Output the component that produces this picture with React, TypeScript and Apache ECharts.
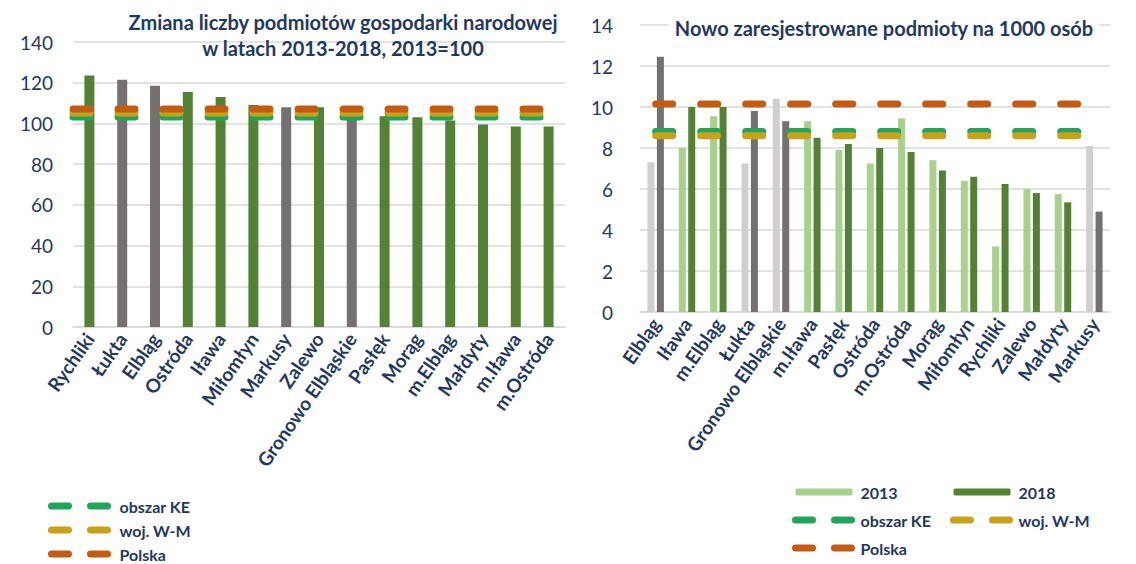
import React, { useEffect, useRef } from 'react';
import * as echarts from 'echarts';

const leftCategories = ['Rychliki', 'Łukta', 'Elbląg', 'Ostróda', 'Iława', 'Miłomłyn', 'Markusy', 'Zalewo', 'Gronowo Elbląskie', 'Pasłęk', 'Morąg', 'm.Elbląg', 'Małdyty', 'm.Iława', 'm.Ostróda'];
const leftValues = [123.5, 121.5, 118.5, 115.5, 113, 109, 108, 108, 105, 103.5, 103, 101.5, 99.5, 98.5, 98.5];

const rightCategories = ['Elbląg', 'Iława', 'm.Elbląg', 'Łukta', 'Gronowo Elbląskie', 'm.Iława', 'Pasłęk', 'Ostróda', 'm.Ostróda', 'Morąg', 'Miłomłyn', 'Rychliki', 'Zalewo', 'Małdyty', 'Markusy'];
const values2013 = [7.3, 8.0, 9.55, 7.25, 10.4, 9.3, 7.9, 7.25, 9.45, 7.4, 6.4, 3.2, 6.0, 5.75, 8.1];
const values2018 = [12.45, 10.0, 10.0, 9.8, 9.3, 8.5, 8.2, 8.0, 7.8, 6.9, 6.6, 6.25, 5.8, 5.35, 4.9];

const refNames = ['obszar KE', 'woj. W-M', 'Polska'];
const leftRefValues = [103.2, 105.1, 107.1];
const rightRefValues = [8.8, 8.6, 10.15];

const grayUnits = ['Łukta', 'Elbląg', 'Markusy', 'Gronowo Elbląskie'];

const leftTitle = 'Zmiana liczby podmiotów gospodarki narodowej\nw latach 2013-2018, 2013=100';
const rightTitle = 'Nowo zaresjestrowane podmioty na 1000 osób';

const NAVY = '#1F3864';
const FONT = 'Lato';
const refColors = ['#1FA65A', '#C9A21A', '#C55A11'];
const DARK_GREEN = '#548235';
const LIGHT_GREEN = '#A9D18E';
const DARK_GRAY = '#767171';
const LIGHT_GRAY = '#D0CECE';
const GRID = '#D9D9D9';

export default function App() {
  const ref = useRef<HTMLDivElement>(null);

  useEffect(() => {
    if (!ref.current) return;
    const chart = echarts.init(ref.current, undefined, { renderer: 'svg' });

    const isGray = (name: string) => grayUnits.indexOf(name) >= 0;

    const catLabel = {
      rotate: 55,
      interval: 0,
      color: NAVY,
      fontFamily: FONT,
      fontWeight: 'bold' as const,
      fontSize: 19,
      margin: 8,
    };
    const valLabel = { color: NAVY, fontFamily: FONT, fontSize: 19 };

    const lineSeries = (name: string, idx: number, values: number[], value: number, xAxisIndex: number, yAxisIndex: number) => ({
      name,
      type: 'line',
      xAxisIndex,
      yAxisIndex,
      data: values.map(() => value),
      symbol: 'none',
      silent: true,
      z: 5 + idx,
      color: refColors[idx],
      itemStyle: { color: refColors[idx] },
      lineStyle: { color: refColors[idx], width: 7, type: [17, 28], cap: 'round' },
    });

    const legendText = { color: NAVY, fontFamily: FONT, fontWeight: 'bold' as const, fontSize: 16 };
    const legendLine = { width: 7, cap: 'round', type: [17, 22] };
    const hiddenSymbol = { opacity: 0 };

    chart.setOption({
      animation: false,
      backgroundColor: '#ffffff',
      title: [
        {
          text: leftTitle,
          left: 343,
          top: 9,
          padding: 0,
          textAlign: 'center',
          textStyle: { color: NAVY, fontFamily: FONT, fontWeight: 'bold', fontSize: 20, lineHeight: 26 },
        },
        {
          text: rightTitle,
          left: 878,
          top: 14,
          textAlign: 'center',
          backgroundColor: '#ffffff',
          padding: [2, 6],
          textStyle: { color: NAVY, fontFamily: FONT, fontWeight: 'bold', fontSize: 20, lineHeight: 24 },
        },
      ],
      legend: [
        {
          data: refNames,
          orient: 'vertical',
          left: 48,
          top: 498,
          padding: 0,
          itemWidth: 56,
          itemHeight: 10,
          itemGap: 8,
          selectedMode: false,
          textStyle: { ...legendText, padding: [0, 0, 0, 7] },
          itemStyle: hiddenSymbol,
          lineStyle: legendLine,
        },
        {
          data: ['2013', { name: 'obszar KE', itemStyle: hiddenSymbol }, { name: 'Polska', itemStyle: hiddenSymbol }],
          orient: 'vertical',
          left: 792,
          top: 484,
          padding: 0,
          itemWidth: 57,
          itemHeight: 7,
          itemGap: 12,
          selectedMode: false,
          textStyle: { ...legendText, padding: [0, 0, 0, 3] },
          lineStyle: legendLine,
        },
        {
          data: ['2018', { name: 'woj. W-M', itemStyle: hiddenSymbol }],
          orient: 'vertical',
          left: 950,
          top: 484,
          padding: 0,
          itemWidth: 57,
          itemHeight: 7,
          itemGap: 12,
          selectedMode: false,
          textStyle: { ...legendText, padding: [0, 0, 0, 3] },
          lineStyle: legendLine,
        },
      ],
      grid: [
        { left: 73, right: 1136 - 565, top: 42, bottom: 564 - 327, containLabel: false },
        { left: 640, right: 1136 - 1110, top: 25, bottom: 564 - 312, containLabel: false },
      ],
      xAxis: [
        {
          type: 'category',
          gridIndex: 0,
          data: leftCategories,
          axisLine: { lineStyle: { color: GRID, width: 1.5 } },
          axisTick: { show: false },
          axisLabel: catLabel,
        },
        {
          type: 'category',
          gridIndex: 0,
          data: leftCategories,
          boundaryGap: false,
          show: false,
        },
        {
          type: 'category',
          gridIndex: 1,
          data: rightCategories,
          axisLine: { lineStyle: { color: GRID, width: 1.5 } },
          axisTick: { show: false },
          axisLabel: catLabel,
        },
      ],
      yAxis: [
        {
          type: 'value',
          gridIndex: 0,
          min: 0,
          max: 140,
          interval: 20,
          axisLine: { show: false },
          axisTick: { show: false },
          axisLabel: { ...valLabel, margin: 20 },
          splitLine: { lineStyle: { color: GRID, width: 1.5 } },
        },
        {
          type: 'value',
          gridIndex: 1,
          min: 0,
          max: 14,
          interval: 2,
          axisLine: { show: false },
          axisTick: { show: false },
          axisLabel: { ...valLabel, margin: 27 },
          splitLine: { lineStyle: { color: GRID, width: 1.5 } },
        },
      ],
      series: [
        {
          name: 'zmiana',
          type: 'bar',
          xAxisIndex: 0,
          yAxisIndex: 0,
          barWidth: 10,
          data: leftValues.map((v, i) => ({
            value: v,
            itemStyle: { color: isGray(leftCategories[i]) ? DARK_GRAY : DARK_GREEN },
          })),
          silent: true,
        },
        ...refNames.map((n, i) => lineSeries(n, i, leftCategories, leftRefValues[i], 1, 0)),
        {
          name: '2013',
          type: 'bar',
          xAxisIndex: 2,
          yAxisIndex: 1,
          barWidth: 7,
          barGap: '35%',
          itemStyle: { color: LIGHT_GREEN },
          data: values2013.map((v, i) => ({
            value: v,
            itemStyle: { color: isGray(rightCategories[i]) ? LIGHT_GRAY : LIGHT_GREEN },
          })),
          silent: true,
        },
        {
          name: '2018',
          type: 'bar',
          xAxisIndex: 2,
          yAxisIndex: 1,
          barWidth: 7,
          barGap: '35%',
          itemStyle: { color: DARK_GREEN },
          data: values2018.map((v, i) => ({
            value: v,
            itemStyle: { color: isGray(rightCategories[i]) ? DARK_GRAY : DARK_GREEN },
          })),
          silent: true,
        },
        ...refNames.map((n, i) => lineSeries(n, i, rightCategories, rightRefValues[i], 2, 1)),
      ],
    });

    return () => chart.dispose();
  }, []);

  return <div ref={ref} style={{ position: 'fixed', left: 0, top: 0, width: 1136, height: 564 }} />;
}
